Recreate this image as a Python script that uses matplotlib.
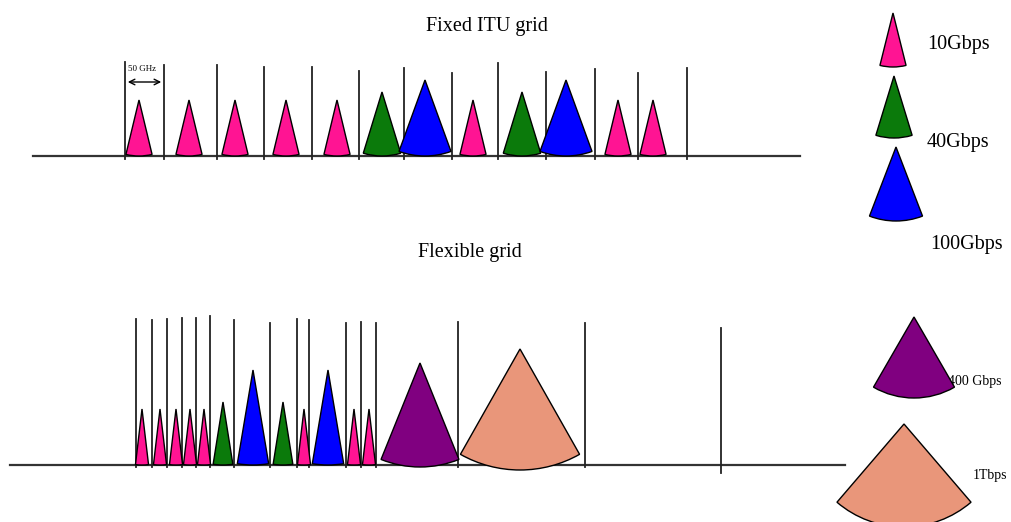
import matplotlib.pyplot as plt
from matplotlib.patches import Wedge

plt.rcParams['font.family'] = ['Liberation Serif', 'DejaVu Serif']

# fixed ITU grid: channel borders and channels (rate of each channel)
fixed_grid_x = [125, 164, 217, 264, 312, 359, 404, 452, 498, 546, 595, 638, 687]
fixed_grid_top = [62, 65, 65, 67, 67, 71, 68, 73, 63, 72, 69, 73, 68]
fixed_chan_x = [139, 189, 235, 286, 337, 382, 425, 473, 522, 566, 618, 653]
fixed_chan_rate = ['10G', '10G', '10G', '10G', '10G', '40G', '100G',
                   '10G', '40G', '100G', '10G', '10G']

# flexible grid
flex_grid_x = [136, 152, 167, 182, 196, 210, 234, 270, 297, 309, 346, 361,
               376, 458, 585, 721]
flex_grid_top = [319, 320, 319, 318, 318, 316, 320, 323, 319, 320, 323, 322,
                 323, 322, 323, 328]
flex_chan_x = [142, 160, 176, 190, 204, 223, 253, 283, 304, 328, 354, 369,
               420, 520]
flex_chan_rate = ['10G', '10G', '10G', '10G', '10G', '40G', '100G', '40G',
                  '10G', '100G', '10G', '10G', '400G', '1T']

legend_rates = ['10G', '40G', '100G', '400G', '1T']
legend_labels = ['10Gbps', '40Gbps', '100Gbps', '400 Gbps', '1Tbps']

colors = {'10G': '#ff1493', '40G': '#0b7a0b', '100G': '#0000ff',
          '400G': '#800080', '1T': '#e9967a'}
# radius, half angle (deg)
fixed_shape = {'10G': (56, 13.5), '40G': (64, 17), '100G': (76, 20)}
flex_shape = {'10G': (56, 6.7), '40G': (63, 9), '100G': (95, 9.5),
              '400G': (104, 22), '1T': (121, 29.5)}
flex_sink = {'10G': 0, '40G': 0, '100G': 0, '400G': 2, '1T': 5}

fig = plt.figure(figsize=(10.11, 5.22), dpi=100)
ax = fig.add_axes([0, 0, 1, 1])
ax.set_xlim(0, 1011)
ax.set_ylim(522, 0)
ax.axis('off')


def cone(x, apex, r, half, color):
    ax.add_patch(Wedge((x, apex), r, 90 - half, 90 + half, facecolor=color,
                       edgecolor='black', lw=1.0, zorder=3))


# fixed grid
base1 = 156
ax.plot([33, 800], [base1, base1], color='#333333', lw=1.6, zorder=1)
for x, t in zip(fixed_grid_x, fixed_grid_top):
    ax.plot([x, x], [t, base1 + 3], color='#222222', lw=1.3, zorder=2)
for x, rate in zip(fixed_chan_x, fixed_chan_rate):
    r, half = fixed_shape[rate]
    cone(x, base1 - r, r, half, colors[rate])
ax.annotate('', xy=(fixed_grid_x[0], 82), xytext=(fixed_grid_x[1], 82),
            arrowprops=dict(arrowstyle='<->', color='black', lw=1.0))
ax.text(142, 69, '50 GHz', fontsize=6.5, ha='center', va='center')
ax.text(487, 27, 'Fixed ITU grid', fontsize=14.5, ha='center', va='center')

# flexible grid
base2 = 465
ax.plot([10, 845], [base2, base2], color='#333333', lw=1.6, zorder=1)
for x, t in zip(flex_grid_x, flex_grid_top):
    bottom = base2 + (8 if x == 721 else 2)
    ax.plot([x, x], [t, bottom], color='#222222', lw=1.3, zorder=2)
for x, rate in zip(flex_chan_x, flex_chan_rate):
    r, half = flex_shape[rate]
    cone(x, base2 - r + flex_sink[rate], r, half, colors[rate])
ax.text(470, 253, 'Flexible grid', fontsize=14.5, ha='center', va='center')

# legend (labels sit behind the wedges, as in the original)
leg_x = [893, 894, 896, 914, 904]
leg_apex = [13, 76, 147, 317, 424]
leg_shape = [(54, 14), (62, 17), (74, 21), (81, 30), (103, 40.6)]
leg_text_xy = [(927, 44), (927, 142), (930, 244), (948, 381), (973, 475)]
leg_size = [14.5, 14.5, 14.5, 10, 10]
for i, rate in enumerate(legend_rates):
    r, half = leg_shape[i]
    cone(leg_x[i], leg_apex[i], r, half, colors[rate])
    tx, ty = leg_text_xy[i]
    ax.text(tx, ty, legend_labels[i], fontsize=leg_size[i], ha='left',
            va='center', zorder=2.5)

fig.savefig('out.png', dpi=100)
